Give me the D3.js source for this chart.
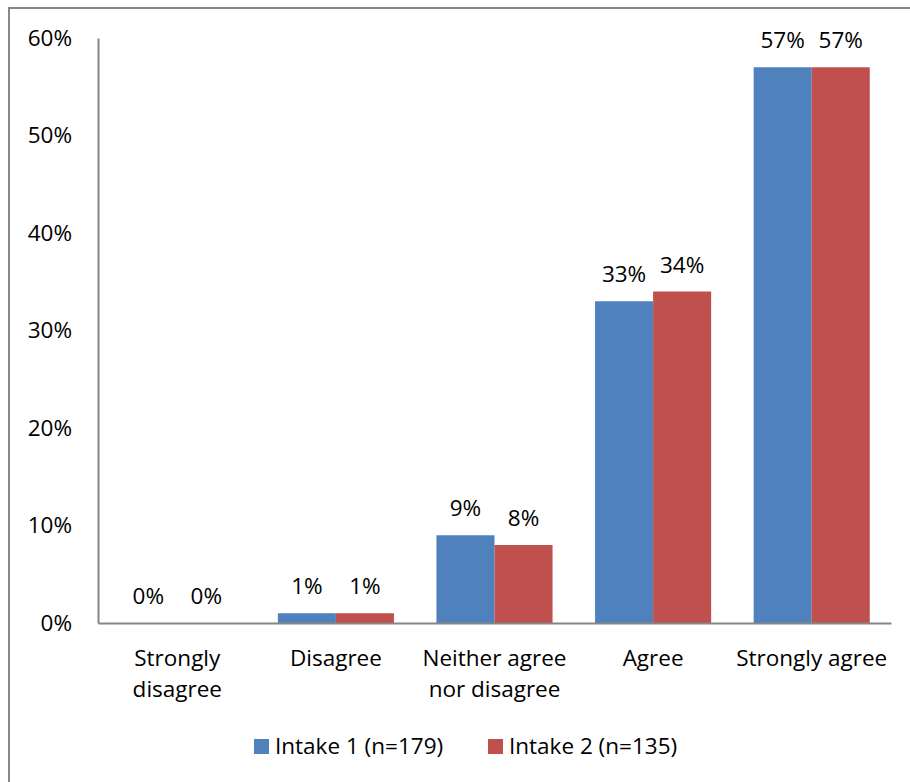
<!DOCTYPE html>
<html>
<head>
<meta charset="utf-8">
<script src="https://cdn.jsdelivr.net/npm/d3@7"></script>
<style>
  html, body { margin: 0; padding: 0; background: #fff; }
  svg { display: block; font-family: "Open Sans", sans-serif; }
</style>
</head>
<body>
<svg id="chart" width="910" height="782"></svg>
<script>
// Survey responses by intake (share of respondents)
const categories = [["Strongly", "disagree"], ["Disagree"], ["Neither agree", "nor disagree"], ["Agree"], ["Strongly agree"]];
const seriesNames = ["Intake 1 (n=179)", "Intake 2 (n=135)"];
const intake1 = [0, 1, 9, 33, 57];
const intake2 = [0, 1, 8, 34, 57];
const yTicks = [0, 10, 20, 30, 40, 50, 60];
const colors = ["#4F81BD", "#C0504D"];

const FONT = "'Open Sans', sans-serif";
const FS = 22.5;

const svg = d3.select("#chart");

// outer chart frame
svg.append("rect")
  .attr("x", 9).attr("y", 8).attr("width", 1000).attr("height", 1000)
  .attr("fill", "none").attr("stroke", "#868686").attr("stroke-width", 2);

const plot = { left: 98, right: 891, top: 38, bottom: 623 };

const x0 = d3.scaleBand()
  .domain(d3.range(categories.length))
  .range([plot.left, plot.right])
  .padding(0);

const x1 = d3.scaleBand()
  .domain(d3.range(seriesNames.length))
  .range([0, x0.bandwidth()])
  .paddingInner(0)
  .paddingOuter(0.366);

const y = d3.scaleLinear().domain([0, 60]).range([plot.bottom, plot.top]);

const series = [intake1, intake2];

// bars and value labels
series.forEach((vals, si) => {
  svg.append("g").selectAll("rect")
    .data(vals)
    .join("rect")
    .attr("x", (d, i) => x0(i) + x1(si))
    .attr("y", d => y(d))
    .attr("width", x1.bandwidth())
    .attr("height", d => y(0) - y(d))
    .attr("fill", colors[si]);

  svg.append("g").selectAll("text")
    .data(vals)
    .join("text")
    .attr("x", (d, i) => x0(i) + x1(si) + x1.bandwidth() / 2)
    .attr("y", d => y(d) - 19)
    .attr("text-anchor", "middle")
    .attr("font-size", FS)
    .attr("fill", "#000")
    .text(d => d + "%");
});

// y axis
const yAxis = svg.append("g")
  .attr("transform", `translate(${plot.left},0)`)
  .call(d3.axisLeft(y).tickValues(yTicks).tickSize(0).tickPadding(26).tickFormat(d => d + "%"));
yAxis.select(".domain").attr("stroke", "#868686").attr("stroke-width", 2);
yAxis.selectAll("text").attr("font-size", FS).attr("fill", "#000").attr("font-family", FONT);

// x axis
const xAxis = svg.append("g")
  .attr("transform", `translate(0,${plot.bottom})`)
  .call(d3.axisBottom(x0).tickSize(0).tickFormat(""));
xAxis.select(".domain").attr("stroke", "#868686").attr("stroke-width", 2);

const catLabels = svg.append("g").selectAll("text")
  .data(categories)
  .join("text")
  .attr("x", (d, i) => x0(i) + x0.bandwidth() / 2)
  .attr("y", 666)
  .attr("text-anchor", "middle")
  .attr("font-size", FS)
  .attr("fill", "#000");
catLabels.selectAll("tspan")
  .data(d => d)
  .join("tspan")
  .attr("x", function () { return d3.select(this.parentNode).attr("x"); })
  .attr("dy", (d, i) => i === 0 ? 0 : 31)
  .text(d => d);

// legend
const legendItems = [{ x: 254, name: seriesNames[0], color: colors[0] }, { x: 488, name: seriesNames[1], color: colors[1] }];
const legend = svg.append("g");
legendItems.forEach(item => {
  legend.append("rect")
    .attr("x", item.x).attr("y", 739).attr("width", 15).attr("height", 15)
    .attr("fill", item.color);
  legend.append("text")
    .attr("x", item.x + 21).attr("y", 754)
    .attr("font-size", FS).attr("fill", "#000")
    .text(item.name);
});
</script>
</body>
</html>
